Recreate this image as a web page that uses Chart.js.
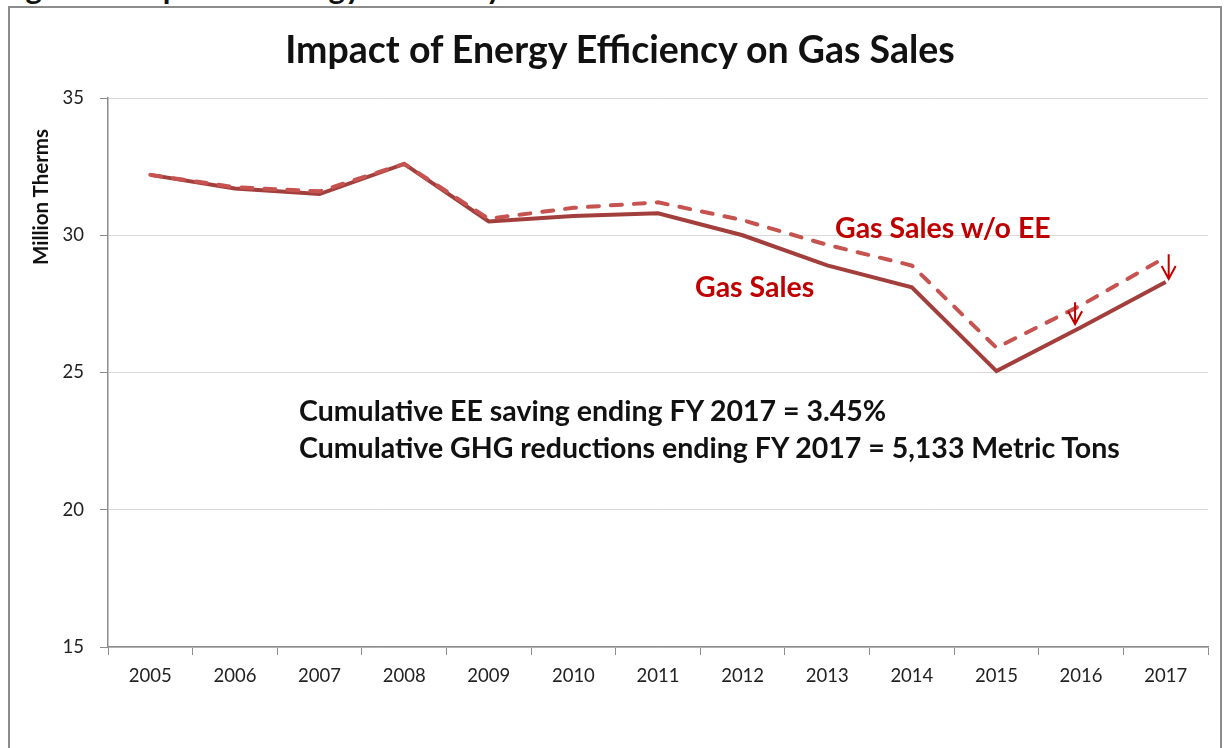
<!DOCTYPE html>
<html>
<head>
<meta charset="utf-8">
<script src="https://cdn.jsdelivr.net/npm/chart.js@4.4.1/dist/chart.umd.min.js"></script>
<style>
  html, body { margin: 0; padding: 0; background: #fff; }
  body { width: 1226px; height: 748px; position: relative; overflow: hidden; font-family: Lato, "Open Sans", sans-serif; }
  #frame { position: absolute; left: 8px; top: 6px; width: 1214px; height: 760px; border: 2px solid #8c8c8c; box-sizing: border-box; }
  #caption { position: absolute; left: 0; top: -31px; font-weight: bold; font-size: 31px; line-height: 1.2; color: #111; white-space: nowrap; }
  #wrap { position: absolute; left: 0; top: 0; width: 1226px; height: 748px; }
  .txt { position: absolute; white-space: nowrap; font-weight: bold; }
  #title { left: 0; width: 1240px; top: 26px; text-align: center; font-size: 37.5px; color: #111; }
  #ytitle { left: 40px; top: 197px; font-size: 20.5px; color: #111; transform: translate(-50%, -50%) rotate(-90deg); }
  .red { color: #C00000; font-size: 28.5px; }
  .note { color: #111; font-size: 28.5px; }
</style>
</head>
<body>
<div id="caption">Figure 6: Impact of Energy Efficiency on Gas Sales</div>
<div id="frame"></div>
<div id="wrap"><canvas id="chart" width="1226" height="748"></canvas></div>
<div class="txt" id="title">Impact of Energy Efficiency on Gas Sales</div>
<div class="txt" id="ytitle">Million Therms</div>
<div class="txt red" style="left:835px; top:210px;">Gas Sales w/o EE</div>
<div class="txt red" style="left:695px; top:269px;">Gas Sales</div>
<div class="txt note" style="left:299px; top:393px;">Cumulative EE saving ending FY 2017 = 3.45%</div>
<div class="txt note" style="left:299px; top:430px;">Cumulative GHG reductions ending FY 2017 = 5,133 Metric Tons</div>
<script>
// data (million therms)
const years = ['2005', '2006', '2007', '2008', '2009', '2010', '2011', '2012', '2013', '2014', '2015', '2016', '2017'];
const gasSales = [32.2, 31.7, 31.5, 32.6, 30.5, 30.7, 30.8, 30.0, 28.9, 28.1, 25.05, 26.65, 28.3];
const gasSalesNoEE = [32.2, 31.75, 31.6, 32.6, 30.6, 31.0, 31.2, 30.55, 29.65, 28.9, 25.9, 27.45, 29.2];
const yTicks = [15, 20, 25, 30, 35];
const arrowYears = ['2016', '2017'];

// small arrows from the "w/o EE" line down to the actual line
const arrowPlugin = {
  id: 'eeArrows',
  afterDatasetsDraw(chart) {
    const ctx = chart.ctx;
    const xs = chart.scales.x, ys = chart.scales.y;
    ctx.save();
    ctx.strokeStyle = '#C00000';
    ctx.lineWidth = 2;
    arrowYears.forEach((yr, k) => {
      const i = years.indexOf(yr);
      const x = xs.getPixelForValue(i) + (k === 0 ? -6 : 3);
      const y1 = ys.getPixelForValue(gasSalesNoEE[i]) - 3;
      const y2 = ys.getPixelForValue(gasSales[i]) - 3;
      ctx.beginPath();
      ctx.moveTo(x, y1);
      ctx.lineTo(x, y2);
      ctx.moveTo(x - 7, y2 - 13);
      ctx.lineTo(x, y2);
      ctx.lineTo(x + 7, y2 - 13);
      ctx.stroke();
    });
    ctx.restore();
  }
};

document.addEventListener('DOMContentLoaded', () => {
  const ctx = document.getElementById('chart').getContext('2d');
  new Chart(ctx, {
    type: 'line',
    data: {
      labels: years,
      datasets: [
        {
          label: 'Gas Sales w/o EE',
          data: gasSalesNoEE,
          borderColor: '#C65350',
          borderWidth: 4,
          borderDash: [11, 12],
          borderCapStyle: 'round',
          pointRadius: 0,
          tension: 0,
          order: 0
        },
        {
          label: 'Gas Sales',
          data: gasSales,
          borderColor: '#A23F3D',
          borderWidth: 4,
          pointRadius: 0,
          tension: 0,
          order: 1
        }
      ]
    },
    options: {
      responsive: false,
      animation: false,
      events: [],
      layout: { padding: { top: 98, right: 18, left: 0, bottom: 0 } },
      plugins: { legend: { display: false }, tooltip: { enabled: false } },
      scales: {
        x: {
          offset: true,
          grid: { display: true, offset: true, drawOnChartArea: false, color: '#8c8c8c', tickLength: 8 },
          border: { color: '#8c8c8c', width: 1.5 },
          ticks: { color: '#222', padding: 10, autoSkip: false, font: { family: 'Lato', size: 18.5 }, maxRotation: 0 },
          afterFit(scale) { scale.height = 101; }
        },
        y: {
          min: 15,
          max: 35,
          afterBuildTicks(scale) { scale.ticks = yTicks.map(v => ({ value: v })); },
          grid: { color: '#d9d9d9', tickLength: 8, tickColor: '#8c8c8c' },
          border: { color: '#8c8c8c', width: 1.5 },
          ticks: { color: '#222', padding: 16, font: { family: 'Lato', size: 18.5 } },
          afterFit(scale) { scale.width = 108; }
        }
      }
    },
    plugins: [arrowPlugin]
  });
});
</script>
</body>
</html>
